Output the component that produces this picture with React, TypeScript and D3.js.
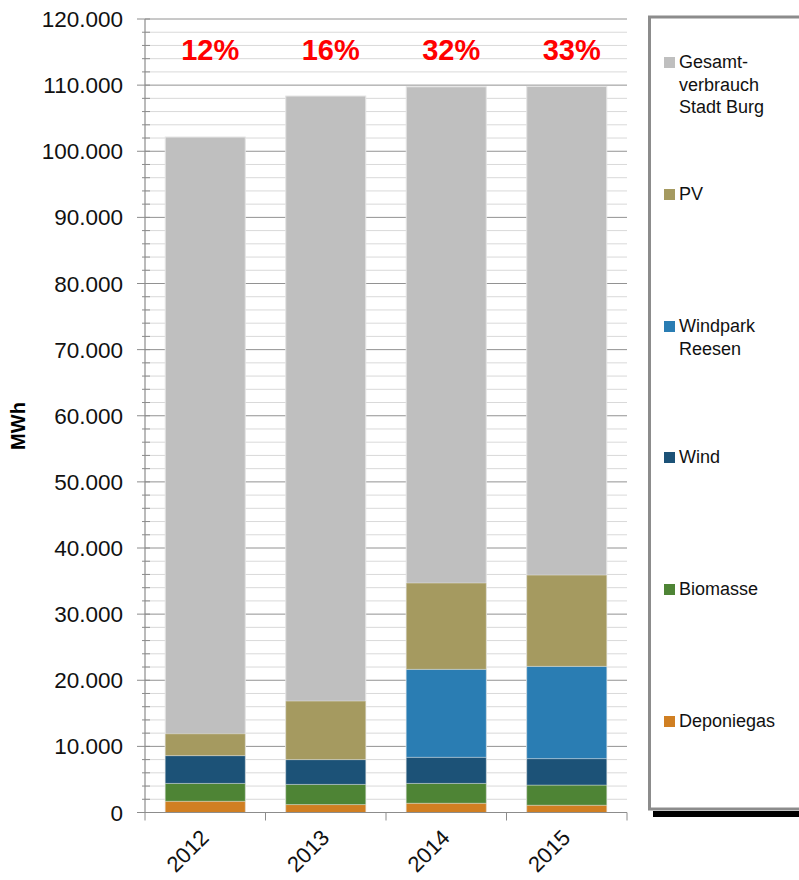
import React from "react";
import * as d3 from "d3";

// Jahre und Erzeugung je Quelle (MWh)
const years = ["2012", "2013", "2014", "2015"];
const deponiegas = [1700, 1200, 1400, 1100];
const biomasse = [2700, 3050, 3000, 3050];
const wind = [4200, 3750, 3950, 4000];
const windparkReesen = [0, 0, 13300, 13950];
const pv = [3300, 8850, 13050, 13800];
const gesamtverbrauch = [102150, 108350, 109750, 109800];

const yTicks = [0, 10000, 20000, 30000, 40000, 50000, 60000, 70000, 80000, 90000, 100000, 110000, 120000];

const series = [
  { key: "Deponiegas", values: deponiegas, color: "#d07f22" },
  { key: "Biomasse", values: biomasse, color: "#4e8435" },
  { key: "Wind", values: wind, color: "#1c5277" },
  { key: "Windpark Reesen", values: windparkReesen, color: "#2a7db3" },
  { key: "PV", values: pv, color: "#a59a60" },
];

const legendItems = [
  { lines: ["Gesamt-", "verbrauch", "Stadt Burg"], color: "#bfbfbf", y: 68 },
  { lines: ["PV"], color: "#a59a60", y: 200 },
  { lines: ["Windpark", "Reesen"], color: "#2a7db3", y: 332 },
  { lines: ["Wind"], color: "#1c5277", y: 463 },
  { lines: ["Biomasse"], color: "#4e8435", y: 595 },
  { lines: ["Deponiegas"], color: "#d07f22", y: 727 },
];

const fmt = (v: number) => d3.format(",")(v).replace(/,/g, ".");

export default function App() {
  const left = 145;
  const right = 627;
  const top = 19;
  const bottom = 812.5;

  const x = d3.scaleBand<string>().domain(years).range([left, right]).paddingInner(0.336).paddingOuter(0.168);
  const xCat = d3.scaleBand<string>().domain(years).range([left, right]);
  const y = d3.scaleLinear().domain([0, 120000]).range([bottom, top]);

  const rows = years.map((yr, i) => {
    const o: any = { year: yr };
    series.forEach((s) => (o[s.key] = s.values[i]));
    return o;
  });
  const stack = d3.stack<any>().keys(series.map((s) => s.key))(rows);

  const minorTicks = d3.range(0, 120001, 2000).filter((v) => v % 10000 !== 0);
  const font = "Arial, 'Liberation Sans', Helvetica, sans-serif";

  return (
    <svg width={799} height={880} style={{ position: "absolute", left: 0, top: 0, background: "#fff" }} fontFamily={font}>
      {/* Hilfslinien */}
      {minorTicks.map((v) => (
        <line key={"m" + v} x1={left} x2={right} y1={y(v)} y2={y(v)} stroke="#d9d9d9" strokeWidth={1} />
      ))}
      {yTicks.map((v) => (
        <line key={"g" + v} x1={left} x2={right} y1={y(v)} y2={y(v)} stroke="#929292" strokeWidth={1} />
      ))}

      {/* Gesamtverbrauch */}
      {years.map((yr, i) => (
        <rect
          key={"t" + yr}
          x={x(yr)}
          width={x.bandwidth()}
          y={y(gesamtverbrauch[i])}
          height={y(0) - y(gesamtverbrauch[i])}
          fill="#bfbfbf"
          stroke="#e4e4e4"
          strokeWidth={1}
        />
      ))}

      {/* Erzeugung gestapelt */}
      {stack.map((layer, si) =>
        layer.map((d, i) =>
          d[1] - d[0] > 0 ? (
            <rect
              key={series[si].key + i}
              x={x(years[i])}
              width={x.bandwidth()}
              y={y(d[1])}
              height={y(d[0]) - y(d[1])}
              fill={series[si].color}
              stroke="rgba(255,255,255,0.35)"
              strokeWidth={1}
            />
          ) : null
        )
      )}

      {/* Y-Achse */}
      <line x1={left} x2={left} y1={top} y2={bottom} stroke="#8c8c8c" strokeWidth={1.2} />
      {yTicks.map((v) => (
        <g key={"yt" + v}>
          <line x1={137} x2={left + 5} y1={y(v)} y2={y(v)} stroke="#8c8c8c" />
          <text x={123} y={y(v)} dy="0.36em" textAnchor="end" fontSize={22.5} fill="#111">
            {fmt(v)}
          </text>
        </g>
      ))}
      {minorTicks.map((v) => (
        <line key={"mt" + v} x1={142} x2={150} y1={y(v)} y2={y(v)} stroke="#8c8c8c" />
      ))}
      <text
        transform="translate(25,426) rotate(-90)"
        textAnchor="middle"
        fontSize={20}
        fontWeight="bold"
        fill="#000"
      >
        MWh
      </text>

      {/* X-Achse */}
      <line x1={left} x2={right} y1={bottom} y2={bottom} stroke="#8c8c8c" strokeWidth={1.2} />
      {[...years.map((yr) => xCat(yr) as number), right].map((px, i) => (
        <line key={"xt" + i} x1={px} x2={px} y1={bottom} y2={bottom + 8} stroke="#8c8c8c" />
      ))}
      {years.map((yr) => (
        <text
          key={"xl" + yr}
          transform={`translate(${(xCat(yr) as number) + xCat.bandwidth() / 2 + 5},839) rotate(-45)`}
          textAnchor="end"
          fontSize={22}
          fill="#111"
        >
          {yr}
        </text>
      ))}

      {/* Anteil erneuerbar */}
      {years.map((yr, i) => {
        const sum = series.reduce((a, s) => a + s.values[i], 0);
        const pct = Math.round((sum / gesamtverbrauch[i]) * 100);
        return (
          <text
            key={"p" + yr}
            x={(xCat(yr) as number) + xCat.bandwidth() / 2 + 5}
            y={60}
            textAnchor="middle"
            fontSize={29}
            fontWeight="bold"
            fill="#ff0000"
          >
            {pct}%
          </text>
        );
      })}

      {/* Legende */}
      <rect x={653} y={811} width={160} height={6} fill="#000" />
      <rect x={649.5} y={17} width={160} height={792} fill="#fff" stroke="#8c8c8c" strokeWidth={3} />
      {legendItems.map((it) => (
        <g key={it.lines[0]}>
          <rect x={664} y={it.y - 11} width={11} height={11} fill={it.color} />
          {it.lines.map((ln, li) => (
            <text key={ln} x={679} y={it.y + li * 22.5} fontSize={18} fill="#111">
              {ln}
            </text>
          ))}
        </g>
      ))}
    </svg>
  );
}
